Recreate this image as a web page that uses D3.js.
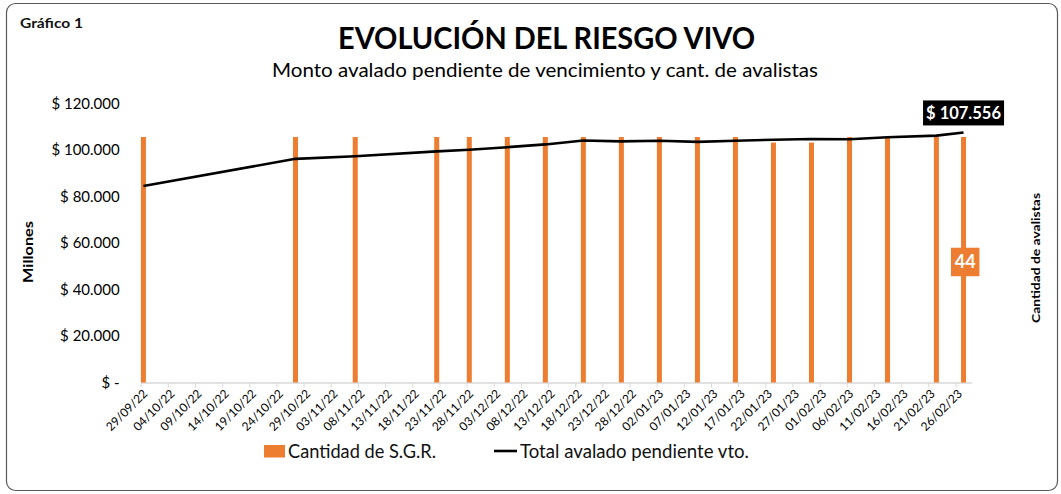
<!DOCTYPE html>
<html>
<head>
<meta charset="utf-8">
<script src="https://cdn.jsdelivr.net/npm/d3@7"></script>
<style>
  body { margin: 0; background: #fff; }
  svg { font-family: Lato, "Open Sans", sans-serif; }
</style>
</head>
<body>
<div id="chart"></div>
<script>
// fechas de cada corte semanal
const dates = [
  "2022-09-29", "2022-10-27", "2022-11-07", "2022-11-22", "2022-11-28",
  "2022-12-05", "2022-12-12", "2022-12-19", "2022-12-26", "2023-01-02",
  "2023-01-09", "2023-01-16", "2023-01-23", "2023-01-30", "2023-02-06",
  "2023-02-13", "2023-02-22", "2023-02-27"
];
// Cantidad de S.G.R. (eje derecho)
const sgrCount = [44, 44, 44, 44, 44, 44, 44, 44, 44, 44, 44, 44, 43, 43, 44, 44, 44, 44];
// Total avalado pendiente vto. (millones)
const totalAvalado = [
  84500, 96200, 97300, 99400, 100100, 101200, 102400, 104100, 103700,
  104000, 103500, 104000, 104400, 104700, 104600, 105500, 106200, 107556
];
const xTickLabels = [
  "29/09/22", "04/10/22", "09/10/22", "14/10/22", "19/10/22", "24/10/22",
  "29/10/22", "03/11/22", "08/11/22", "13/11/22", "18/11/22", "23/11/22",
  "28/11/22", "03/12/22", "08/12/22", "13/12/22", "18/12/22", "23/12/22",
  "28/12/22", "02/01/23", "07/01/23", "12/01/23", "17/01/23", "22/01/23",
  "27/01/23", "01/02/23", "06/02/23", "11/02/23", "16/02/23", "21/02/23",
  "26/02/23"
];
const leftTicks = [0, 20000, 40000, 60000, 80000, 100000, 120000];

const width = 1061, height = 494;
const orange = "#ED7D31";

const svg = d3.select("#chart").append("svg")
  .attr("width", width)
  .attr("height", height);

// marco redondeado
svg.append("rect")
  .attr("x", 6.5).attr("y", 3.5)
  .attr("width", 1051).attr("height", 487)
  .attr("rx", 9)
  .attr("fill", "#fff")
  .attr("stroke", "#595959")
  .attr("stroke-width", 1.2);

const parseIso = d3.utcParse("%Y-%m-%d");
const parseTick = d3.utcParse("%d/%m/%y");
const data = dates.map((d, i) => ({
  date: parseIso(d),
  count: sgrCount[i],
  total: totalAvalado[i]
}));

const plotLeft = 140.7, plotRight = 971.7, plotTop = 103.5, plotBottom = 382.5;

const x = d3.scaleUtc()
  .domain([parseIso("2022-09-29"), parseIso("2023-03-01")])
  .range([plotLeft, plotRight]);
const halfDay = (x(parseIso("2022-09-30")) - x(parseIso("2022-09-29"))) / 2;
const px = (d) => x(d.date) + halfDay;

const yLeft = d3.scaleLinear().domain([0, 120000]).range([plotBottom, plotTop]);
const yRight = d3.scaleLinear().domain([0, 50]).range([plotBottom, plotTop]);

const fmtMoney = (v) =>
  v === 0 ? "$ -" : "$ " + d3.format(",")(v).replace(/,/g, ".");

// títulos
svg.append("text")
  .attr("x", 20).attr("y", 28)
  .attr("font-size", 13.5).attr("font-weight", 700)
  .attr("textLength", 63).attr("lengthAdjust", "spacingAndGlyphs")
  .attr("fill", "#111")
  .text("Gráfico 1");

svg.append("text")
  .attr("x", 546.5).attr("y", 49)
  .attr("text-anchor", "middle")
  .attr("font-size", 30).attr("font-weight", 700)
  .attr("textLength", 417).attr("lengthAdjust", "spacingAndGlyphs")
  .attr("fill", "#000")
  .text("EVOLUCIÓN DEL RIESGO VIVO");

svg.append("text")
  .attr("x", 545).attr("y", 77)
  .attr("text-anchor", "middle")
  .attr("font-size", 19)
  .attr("textLength", 546).attr("lengthAdjust", "spacingAndGlyphs")
  .attr("fill", "#000")
  .text("Monto avalado pendiente de vencimiento y cant. de avalistas");

// eje izquierdo
const yAxisG = svg.append("g")
  .attr("transform", `translate(${plotLeft},0)`)
  .call(d3.axisLeft(yLeft).tickValues(leftTicks).tickFormat(fmtMoney).tickSize(0).tickPadding(21));
yAxisG.select(".domain").remove();
yAxisG.selectAll("text")
  .attr("font-family", "Lato, sans-serif")
  .attr("font-size", 15)
  .attr("fill", "#000");

// eje inferior
const xAxisG = svg.append("g")
  .attr("transform", `translate(0,${plotBottom})`)
  .call(d3.axisBottom(x)
    .tickValues(xTickLabels.map(parseTick))
    .tickFormat(d3.utcFormat("%d/%m/%y"))
    .tickSize(5)
    .tickSizeOuter(0));
xAxisG.select(".domain").attr("stroke", "#d9d9d9").attr("stroke-width", 1.5);
xAxisG.selectAll(".tick line").attr("stroke", "#d9d9d9");
xAxisG.selectAll("text")
  .attr("font-family", "Lato, sans-serif")
  .attr("font-size", 12)
  .attr("fill", "#000")
  .attr("text-anchor", "end")
  .attr("dy", 0)
  .attr("transform", "translate(7,12) rotate(-45)")
  .attr("y", 0).attr("x", 0);

// barras
svg.selectAll(".bar")
  .data(data)
  .join("rect")
  .attr("class", "bar")
  .attr("x", (d) => px(d) - 2.5)
  .attr("width", 5)
  .attr("y", (d) => yRight(d.count))
  .attr("height", (d) => plotBottom - yRight(d.count))
  .attr("fill", orange);

// línea
const line = d3.line().x(px).y((d) => yLeft(d.total));
svg.append("path")
  .datum(data)
  .attr("d", line)
  .attr("fill", "none")
  .attr("stroke", "#000")
  .attr("stroke-width", 2.6)
  .attr("stroke-linejoin", "round");

// etiquetas de valores del último punto
const last = data[data.length - 1];
const lx = px(last), ly = yLeft(last.total);
svg.append("rect")
  .attr("x", lx - 40.5).attr("y", ly - 32)
  .attr("width", 81).attr("height", 25)
  .attr("fill", "#000");
svg.append("text")
  .attr("x", lx).attr("y", ly - 13)
  .attr("text-anchor", "middle")
  .attr("font-size", 16.5).attr("font-weight", 700)
  .attr("fill", "#fff")
  .text(fmtMoney(last.total));

const by = (yRight(last.count) + plotBottom) / 2;
svg.append("rect")
  .attr("x", lx - 12.6).attr("y", by - 12)
  .attr("width", 28.5).attr("height", 28.5)
  .attr("fill", orange);
svg.append("text")
  .attr("x", lx + 1.6).attr("y", by + 8.5)
  .attr("text-anchor", "middle")
  .attr("font-size", 18).attr("font-weight", 700)
  .attr("fill", "#fff")
  .text(last.count);

// títulos de ejes
svg.append("text")
  .attr("transform", "translate(33,252) rotate(-90)")
  .attr("text-anchor", "middle")
  .attr("font-size", 14).attr("font-weight", 700)
  .attr("textLength", 62).attr("lengthAdjust", "spacingAndGlyphs")
  .attr("fill", "#000")
  .text("Millones");

svg.append("text")
  .attr("transform", "translate(1040,258) rotate(-90)")
  .attr("text-anchor", "middle")
  .attr("font-size", 12).attr("font-weight", 700)
  .attr("textLength", 130).attr("lengthAdjust", "spacingAndGlyphs")
  .attr("fill", "#000")
  .text("Cantidad de avalistas");

// leyenda
const legend = svg.append("g");
legend.append("rect")
  .attr("x", 264).attr("y", 445)
  .attr("width", 21).attr("height", 12.5)
  .attr("fill", orange);
legend.append("text")
  .attr("x", 288).attr("y", 457.5)
  .attr("font-size", 18.5)
  .attr("textLength", 148).attr("lengthAdjust", "spacingAndGlyphs")
  .attr("fill", "#111")
  .text("Cantidad de S.G.R.");
legend.append("line")
  .attr("x1", 494).attr("x2", 517)
  .attr("y1", 451).attr("y2", 451)
  .attr("stroke", "#000").attr("stroke-width", 2.6);
legend.append("text")
  .attr("x", 520).attr("y", 457.5)
  .attr("font-size", 18.5)
  .attr("textLength", 229).attr("lengthAdjust", "spacingAndGlyphs")
  .attr("fill", "#111")
  .text("Total avalado pendiente vto.");
</script>
</body>
</html>
